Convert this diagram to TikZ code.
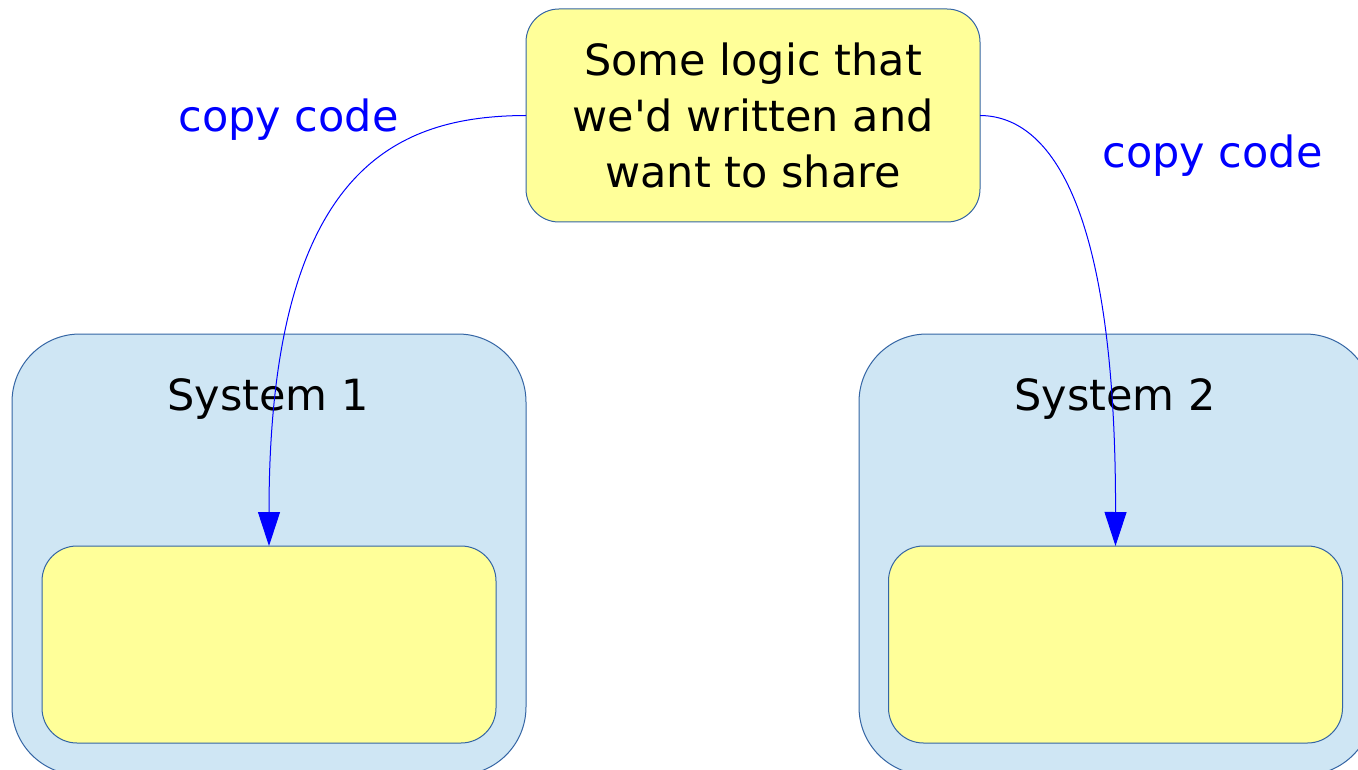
\documentclass[tikz,border=0pt]{standalone}
\usepackage{fontspec}
\setmainfont{DejaVu Sans}[Ligatures=TeXOff]
\usetikzlibrary{arrows.meta}
\definecolor{boxyellow}{HTML}{FFFF99}
\definecolor{sysblue}{HTML}{CFE6F4}
\definecolor{edgeblue}{HTML}{3465A4}
\definecolor{linkblue}{HTML}{0000FF}
\begin{document}
\begin{tikzpicture}[x=1pt,y=-1pt,
  bigfont/.style={font=\fontsize{43}{56}\selectfont},
  logicbox/.style={draw=edgeblue,line width=1pt,fill=boxyellow,rounded corners=33pt,
    inner sep=0pt,outer sep=0pt,align=center,bigfont},
  sysbox/.style={draw=edgeblue,line width=1pt,fill=sysblue,rounded corners=68pt,
    inner sep=0pt,outer sep=0pt},
  implbox/.style={draw=edgeblue,line width=1pt,fill=boxyellow,rounded corners=35pt,
    inner sep=0pt,outer sep=0pt,minimum width=454pt,minimum height=197pt},
  syslabel/.style={anchor=base,inner sep=0pt,bigfont},
  copylabel/.style={anchor=base,inner sep=0pt,bigfont,text=linkblue},
  conn/.style={draw=linkblue,line width=1pt,-{Triangle[length=34pt,width=22pt]}}]
\useasboundingbox (0,0) rectangle (1358,770);
\clip (0,0) rectangle (1358,770);
% systems
\node[sysbox,minimum width=514pt,minimum height=441pt] (sys1) at (269,554.5) {};
\node[sysbox,minimum width=514pt,minimum height=441pt] (sys2) at (1116,554.5) {};
\node[implbox] (impl1) at (269,644.5) {};
\node[implbox] (impl2) at (1115.5,644.5) {};
\node[syslabel] (sys1label) at (268,410) {System 1};
\node[syslabel] (sys2label) at (1115,410) {System 2};
% shared logic
\node[logicbox,minimum width=454pt,minimum height=213pt] (logic) at (753,115.5)
  {Some logic that\\we'd written and\\want to share};
% labels
\node[copylabel] (copy1) at (288.5,132) {copy code};
\node[copylabel] (copy2) at (1212.5,168) {copy code};
% connectors
\draw[conn] (logic.west) .. controls (398,116) and (269,166) .. (impl1.north);
\draw[conn] (logic.east) .. controls (1052,116) and (1116,210) .. (impl2.north);
\end{tikzpicture}
\end{document}
